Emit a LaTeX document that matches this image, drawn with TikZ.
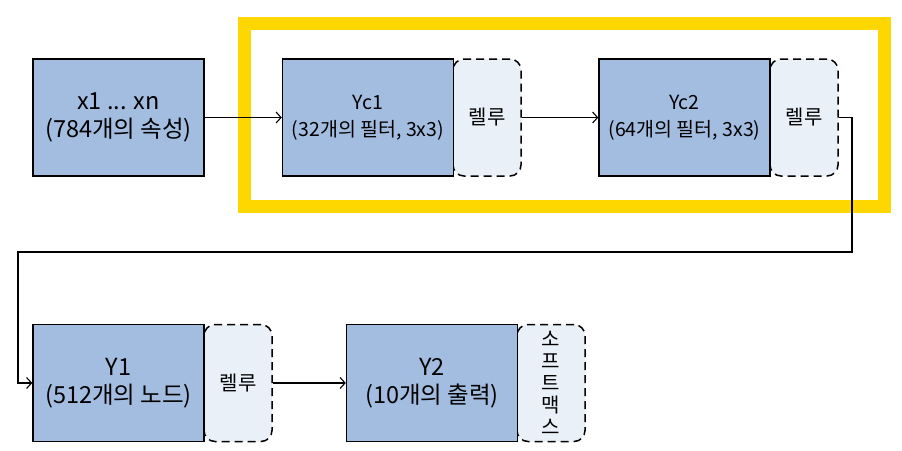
\documentclass[tikz,border=0pt]{standalone}
\usepackage{fontspec}
\setmainfont{Noto Sans CJK KR}
\usetikzlibrary{arrows.meta}
\definecolor{boxblue}{HTML}{A3BDE0}
\definecolor{relublue}{HTML}{EAF0F8}
\definecolor{frameyellow}{HTML}{FFD700}
\tikzset{
  mainbox/.style={draw=black, line width=1.4pt, fill=boxblue, minimum width=171pt, minimum height=117pt, inner sep=0pt, align=center, font=\fontsize{23.5}{28}\selectfont},
  convbox/.style={mainbox, font=\fontsize{19.5}{27}\selectfont},
  relubox/.style={draw=black, line width=1.5pt, dash pattern=on 8pt off 5pt, fill=relublue, rounded corners=11pt, minimum width=68pt, minimum height=117pt, inner sep=0pt, align=center, font=\fontsize{20}{22}\selectfont},
  conn/.style={draw=black, line width=1.1pt, -{Straight Barb[length=5pt,width=11pt,line width=1.1pt]}},
  hl/.style={draw=frameyellow, line width=13pt, minimum width=639.5pt, minimum height=182.5pt, inner sep=0pt}
}
\begin{document}
\begin{tikzpicture}[x=1pt,y=-1pt]
\useasboundingbox (0,0) rectangle (902,450);
\node[hl] (frame) at (564.25,114.75) {};
% relu boxes first so solid box edges lie on top
\node[relubox] (r1) at (487,117.5) {렐루};
\node[relubox] (r2) at (804,117.5) {렐루};
\node[relubox] (r3) at (238,383) {렐루};
\node[relubox] (sm) at (551,383) {소\\프\\트\\맥\\스};
\node[mainbox] (x) at (118.5,117.5) {x1 ... xn\\(784개의 속성)};
\node[convbox] (yc1) at (368,117.5) {Yc1\\(32개의 필터, 3x3)};
\node[convbox] (yc2) at (684.5,117.5) {Yc2\\(64개의 필터, 3x3)};
\node[mainbox] (y1) at (118.5,383) {Y1\\(512개의 노드)};
\node[mainbox] (y2) at (432,383) {Y2\\(10개의 출력)};
\coordinate (c1) at (852,252);
\coordinate (c2) at (18,252);
\draw[conn] (x.east) -- (yc1.west);
\draw[conn] (r1.east) -- (yc2.west);
\draw[conn] (r2.east) -| (c1) -- (c2) |- (y1.west);
\draw[conn] (r3.east) -- (y2.west);
\end{tikzpicture}
\end{document}
